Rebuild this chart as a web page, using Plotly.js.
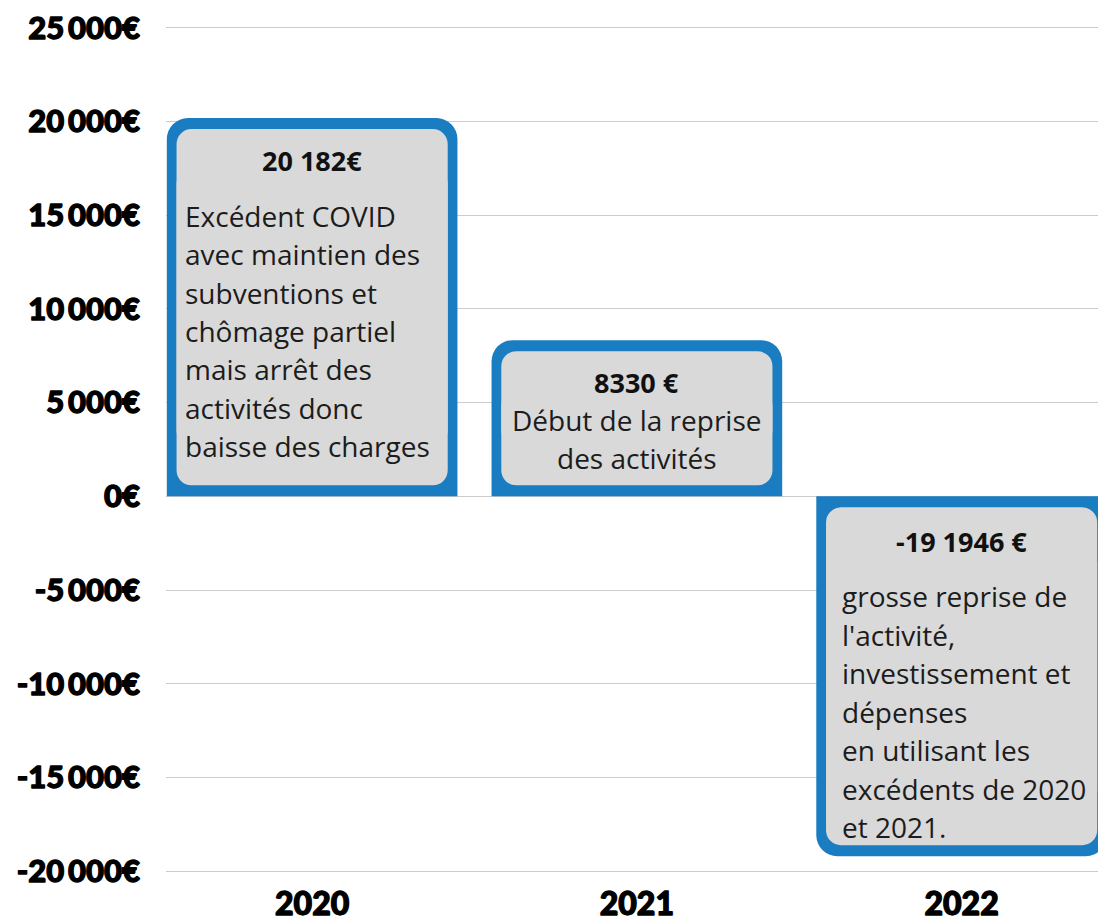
<!DOCTYPE html>
<html>
<head>
<meta charset="utf-8">
<script src="https://cdn.plot.ly/plotly-3.0.1.min.js"></script>
<style>
html,body{margin:0;padding:0;background:#fff;}
#chart{width:1098px;height:921px;}
#chart .xtick text, #chart .ytick text{stroke:#000;stroke-width:1.3px;stroke-linejoin:round;}
</style>
</head>
<body>
<div id="chart"></div>
<script>
// ---- data ----
var years = ['2020', '2021', '2022'];
var values = [20182, 8330, -19194.6];
var valueLabels = ['20 182€', '8330 €', '-19 1946 €'];
var descriptions = [
  ['Excédent COVID', 'avec maintien des', 'subventions et', 'chômage partiel', 'mais arrêt des', 'activités donc', 'baisse des charges'],
  ['Début de la reprise', 'des activités'],
  ['grosse reprise de', "l'activité,", 'investissement et', 'dépenses', 'en utilisant les', 'excédents de 2020', 'et 2021.']
];
var yTickVals = [-20000, -15000, -10000, -5000, 0, 5000, 10000, 15000, 20000, 25000];
var yTickText = ['-20\u2009000€', '-15\u2009000€', '-10\u2009000€', '-5\u2009000€', '0€', '5\u2009000€', '10\u2009000€', '15\u2009000€', '20\u2009000€', '25\u2009000€'];

// ---- style ----
var BLUE = '#1a7cc1';
var GRAY = '#d9d9d9';
var yMin = -20200, yMax = 25200;
var marginT = 24, marginB = 46;
var plotH = 921 - marginT - marginB;
var perPx = (yMax - yMin) / plotH;       // euros per pixel
var insetFar = 11 * perPx, insetNear = 11 * perPx, overlap = 40 * perPx;

// two overlapping gray bars per column so that both ends of the inner box are rounded
var farBase = [], farLen = [], nearBase = [], nearLen = [];
values.forEach(function (v) {
  var s = v >= 0 ? 1 : -1;
  var far = v - s * insetFar;
  var near = s * insetNear;
  farBase.push(near + s * overlap); farLen.push(far - (near + s * overlap));
  nearBase.push(far - s * overlap); nearLen.push(near - (far - s * overlap));
});

var traces = [
  {type: 'bar', x: years, y: values, width: 0.895, marker: {color: BLUE, cornerradius: 21}, hoverinfo: 'skip'},
  {type: 'bar', x: years, y: farLen, base: farBase, width: 0.835, marker: {color: GRAY, cornerradius: 15}, hoverinfo: 'skip'},
  {type: 'bar', x: years, y: nearLen, base: nearBase, width: 0.835, marker: {color: GRAY, cornerradius: 15}, hoverinfo: 'skip'}
];

var textFont = {family: 'Open Sans, sans-serif', size: 28, color: '#1c1c1c'};
var titleFont = {family: 'Open Sans, sans-serif', size: 27, color: '#111', weight: 700};
var titleOffset = [42, 42, 45];
var bodyOffset = [98, 80, 100];
var lineGap = [38.3, 38, 38.5];
var align = ['left', 'center', 'left'];
var leftShift = [-129, 0, -122];

var annotations = [];
years.forEach(function (yr, i) {
  var top = Math.max(values[i], 0);
  annotations.push({x: i, y: top, xref: 'x', yref: 'y', text: '<b>' + valueLabels[i] + '</b>', showarrow: false,
    font: titleFont, xanchor: 'center', yanchor: 'middle', yshift: -titleOffset[i]});
  descriptions[i].forEach(function (line, j) {
    annotations.push({x: i, y: top, xref: 'x', yref: 'y', text: line, showarrow: false,
      font: textFont, xanchor: align[i] === 'left' ? 'left' : 'center', yanchor: 'middle',
      xshift: leftShift[i], yshift: -(bodyOffset[i] + j * lineGap[i])});
  });
});

var heavy = 'Lato, sans-serif';

var layout = {
  width: 1098, height: 921,
  margin: {l: 166, r: 0, t: marginT, b: marginB},
  paper_bgcolor: '#fff', plot_bgcolor: '#fff',
  barmode: 'overlay',
  showlegend: false,
  hovermode: false,
  xaxis: {type: 'category', range: [-0.45, 2.42], showgrid: false, zeroline: false, showline: false,
    ticks: '', tickfont: {family: heavy, size: 32, color: '#000', weight: 900}, ticklabelstandoff: 7, fixedrange: true},
  yaxis: {range: [yMin, yMax], tickvals: yTickVals, ticktext: yTickText, showgrid: true, gridcolor: '#cccccc', gridwidth: 1,
    zeroline: true, zerolinecolor: '#cccccc', zerolinewidth: 1, showline: false, ticks: '',
    tickfont: {family: heavy, size: 31, color: '#000', weight: 900}, ticklabelstandoff: 25, fixedrange: true},
  annotations: annotations
};

Plotly.newPlot('chart', traces, layout, {displayModeBar: false, staticPlot: true});
</script>
</body>
</html>
